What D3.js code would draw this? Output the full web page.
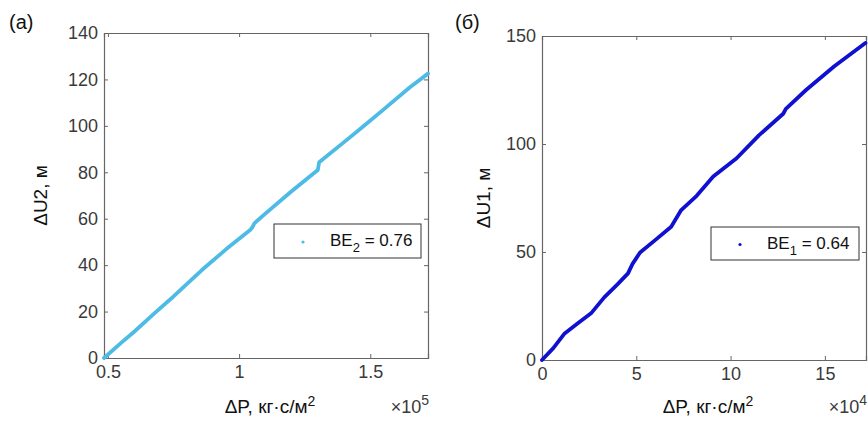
<!DOCTYPE html>
<html lang="ru">
<head>
<meta charset="UTF-8">
<title>BE</title>
<script src="https://d3js.org/d3.v7.min.js"></script>
<style>
  body { margin: 0; background: #fff; }
  text { font-family: "Liberation Sans", Arial, sans-serif; }
</style>
</head>
<body>
<svg width="868" height="428"></svg>
<script>
// panel (a): dP in kg*s/m2, dU2 in m
var dpA = [48500, 55000, 60000, 67900, 75000, 85800, 95000, 104200, 105000, 105800, 110000, 120000, 130000, 130500, 140000, 147400, 155000, 165000, 172000]
var duA = [0, 6.5, 11.3, 19.4, 26.5, 37.9, 46.8, 55.1, 56.2, 58, 62.2, 71.8, 81, 84.3, 93, 99.8, 107, 116.5, 122.5]
var xTicksA = [50000, 100000, 150000]
var yTicksA = [0, 20, 40, 60, 80, 100, 120, 140]

// panel (б): dP, dU1
var dpB = [0, 6000, 12000, 19000, 26000, 33000, 40000, 45600, 48000, 52000, 60000, 68500, 73800, 82000, 90800, 103200, 115000, 127900, 129300, 140000, 155000, 171500]
var duB = [0, 5.5, 12.3, 17, 21.6, 29, 35, 40.1, 44.5, 49.8, 55.5, 61.7, 69.4, 76, 84.9, 93.4, 104, 114, 116.3, 125, 136, 146.8]
var xTicksB = [0, 50000, 100000, 150000]
var yTicksB = [0, 50, 100, 150]

var svg = d3.select("svg")

function panel(o) {
    var g = svg.append("g")
    var x = d3.scaleLinear().domain(o.xdom).range([o.left, o.right])
    var y = d3.scaleLinear().domain(o.ydom).range([o.bottom, o.top])
    var fmt = d => String(+(d / o.exp).toFixed(2))

    var ax = [
        [d3.axisBottom(x).tickValues(o.xt).tickSize(-4).tickPadding(7).tickFormat(fmt), "translate(0," + o.bottom + ")"],
        [d3.axisTop(x).tickValues(o.xt).tickSize(-4).tickFormat(""), "translate(0," + o.top + ")"],
        [d3.axisLeft(y).tickValues(o.yt).tickSize(-4).tickPadding(6), "translate(" + o.left + ",0)"],
        [d3.axisRight(y).tickValues(o.yt).tickSize(-4).tickFormat(""), "translate(" + o.right + ",0)"]
    ]
    ax.forEach(a => {
        var s = g.append("g").attr("transform", a[1]).call(a[0])
        s.select(".domain").attr("stroke", "#666").attr("stroke-width", 1.2)
        s.selectAll(".tick line").attr("stroke", "#666")
        s.selectAll("text").attr("fill", "#3a3a3a").style("font-size", "18px")
    })

    var line = d3.line().x(d => x(d[0])).y(d => y(d[1]))
    g.append("path").datum(o.xs.map((v, i) => [v, o.ys[i]]))
        .attr("d", line).attr("fill", "none")
        .attr("stroke", o.color).attr("stroke-width", 3.8)
        .attr("stroke-linejoin", "round").attr("stroke-linecap", "round")

    // labels
    var xl = g.append("text").attr("x", (o.left + o.right) / 2 + 4).attr("y", 413)
        .attr("text-anchor", "middle").attr("fill", "#111").style("font-size", "19px")
    xl.append("tspan").text("ΔP, кг·с/м")
    xl.append("tspan").text("2").attr("dy", -7).style("font-size", "14px")

    var ex = g.append("text").attr("x", o.right + 1).attr("y", 413)
        .attr("text-anchor", "end").attr("fill", "#3a3a3a").style("font-size", "18px")
    ex.append("tspan").text("×10")
    ex.append("tspan").text(o.expLabel).attr("dy", -8).style("font-size", "14px")

    g.append("text").attr("transform", "translate(" + o.ylx + "," + ((o.top + o.bottom) / 2) + ") rotate(-90)")
        .attr("text-anchor", "middle").attr("fill", "#111").style("font-size", "19px")
        .text(o.ylabel)

    g.append("text").attr("x", o.tagx).attr("y", 29).attr("fill", "#111")
        .style("font-size", "20px").text(o.tag)

    // legend
    var lg = o.legend
    g.append("rect").attr("x", lg[0]).attr("y", lg[1]).attr("width", lg[2]).attr("height", lg[3])
        .attr("fill", "#fff").attr("stroke", "#333").attr("stroke-width", 1)
    g.append("circle").attr("cx", lg[0] + 29).attr("cy", lg[1] + lg[3] / 2 + 1).attr("r", 1.6).attr("fill", o.color)
    var lt = g.append("text").attr("x", lg[0] + 56).attr("y", lg[1] + lg[3] / 2 + 5)
        .attr("fill", "#111").style("font-size", "17px")
    lt.append("tspan").text("BE")
    lt.append("tspan").text(o.sub).attr("dy", 6).style("font-size", "13px")
    lt.append("tspan").text(" = " + o.be).attr("dy", -6)
}

panel({
    left: 104, right: 428, top: 33, bottom: 358,
    xdom: [48500, 172000], ydom: [0, 140], xt: xTicksA, yt: yTicksA,
    xs: dpA, ys: duA, color: "#4dbbe6", exp: 1e5, expLabel: "5",
    ylabel: "ΔU2, м", ylx: 47, tag: "(a)", tagx: 9,
    legend: [274, 224, 147, 34], sub: "2", be: "0.76"
})

panel({
    left: 542, right: 866, top: 36, bottom: 360,
    xdom: [0, 171800], ydom: [0, 150], xt: xTicksB, yt: yTicksB,
    xs: dpB, ys: duB, color: "#1010d0", exp: 1e4, expLabel: "4",
    ylabel: "ΔU1, м", ylx: 490, tag: "(б)", tagx: 455,
    legend: [711, 227, 148, 33], sub: "1", be: "0.64"
})
</script>
</body>
</html>
